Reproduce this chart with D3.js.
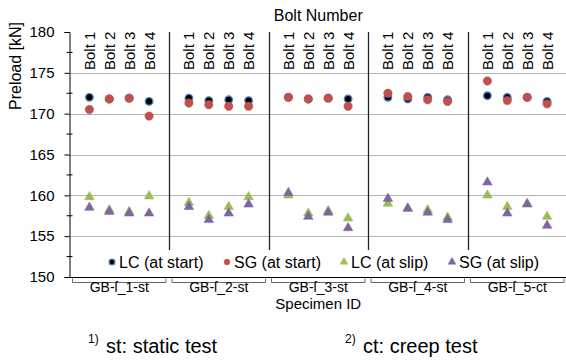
<!DOCTYPE html>
<html>
<head>
<meta charset="utf-8">
<script src="https://cdn.jsdelivr.net/npm/d3@7"></script>
<style>
  html, body { margin: 0; padding: 0; background: #fff; }
  svg { display: block; font-family: "Liberation Sans", Arial, sans-serif; }
</style>
</head>
<body>
<svg id="chart" width="566" height="360"></svg>
<script>
// Specimens and bolts
const specimens = ["GB-ſ_1-st", "GB-ſ_2-st", "GB-ſ_3-st", "GB-ſ_4-st", "GB-ſ_5-ct"];
const bolts = ["Bolt 1", "Bolt 2", "Bolt 3", "Bolt 4"];

// Preload per specimen (rows) and bolt (columns), kN
const lcStart = [
  [172.0, 171.8, 171.9, 171.5],
  [171.9, 171.6, 171.7, 171.6],
  [172.0, 171.8, 171.9, 171.8],
  [172.0, 171.8, 172.0, 171.7],
  [172.2, 172.0, 172.0, 171.5]
];
const sgStart = [
  [170.5, 171.8, 171.9, 169.7],
  [171.3, 171.1, 170.9, 170.9],
  [172.0, 171.8, 171.9, 170.9],
  [172.5, 172.1, 171.7, 171.5],
  [174.0, 171.6, 172.0, 171.2]
];
const lcSlip = [
  [159.8, 158.2, 158.0, 159.9],
  [159.1, 157.5, 158.6, 159.8],
  [160.0, 157.8, 158.1, 157.2],
  [159.0, 158.4, 158.2, 157.3],
  [160.0, 158.6, 159.0, 157.4]
];
const sgSlip = [
  [158.5, 158.0, 157.8, 157.8],
  [158.6, 157.0, 157.8, 158.9],
  [160.3, 157.4, 157.9, 156.0],
  [159.6, 158.4, 157.9, 157.0],
  [161.6, 157.8, 158.9, 156.3]
];

const yTicks = [150, 155, 160, 165, 170, 175, 180];
const yMinor = [152.5, 157.5, 162.5, 167.5, 172.5, 177.5];

const seriesNames = ["LC (at start)", "SG (at start)", "LC (at slip)", "SG (at slip)"];

const svg = d3.select("#chart");
const plotLeft = 69.5, plotRight = 567, plotTop = 32, plotBottom = 277;

const x = d3.scaleBand().domain(specimens).range([plotLeft, plotRight]);
const xb = d3.scalePoint().domain(bolts).range([0, x.bandwidth()]).padding(1);
const y = d3.scaleLinear().domain([150, 180]).range([plotBottom, plotTop]);

// Horizontal gridlines
svg.append("g").selectAll("line").data(yTicks.filter(v => v > 150 && v < 180)).join("line")
  .attr("x1", plotLeft).attr("x2", plotRight)
  .attr("y1", d => Math.round(y(d)) + 0.5).attr("y2", d => Math.round(y(d)) + 0.5)
  .attr("stroke", "#b3b3b3").attr("stroke-width", 1);

// Group separators
svg.append("g").selectAll("line").data(specimens.slice(1)).join("line")
  .attr("x1", d => Math.round(x(d)) + 0.5).attr("x2", d => Math.round(x(d)) + 0.5)
  .attr("y1", plotTop).attr("y2", 250)
  .attr("stroke", "#222").attr("stroke-width", 1.3);

// Bolt labels at top of each group
specimens.forEach(s => {
  svg.append("g").selectAll("text").data(bolts).join("text")
    .attr("transform", d => `translate(${x(s) + xb(d)},70) rotate(-90)`)
    .attr("dy", "0.36em")
    .attr("font-size", 15)
    .attr("fill", "#000")
    .text(d => d);
});

// Y axis
const yAxis = svg.append("g").attr("transform", `translate(${plotLeft},0)`)
  .call(d3.axisLeft(y).tickValues(yTicks).tickSize(5).tickPadding(10));
yAxis.select(".domain").attr("stroke", "#000");
yAxis.selectAll(".tick line").attr("stroke", "#000");
yAxis.selectAll("text").attr("font-size", 15).attr("fill", "#000")
  .attr("font-family", "Liberation Sans, Arial, sans-serif");
svg.append("g").selectAll("line").data(yMinor).join("line")
  .attr("x1", plotLeft - 3).attr("x2", plotLeft + 3)
  .attr("y1", d => y(d)).attr("y2", d => y(d))
  .attr("stroke", "#000");

// X axis line and group brackets
svg.append("line").attr("x1", plotLeft).attr("x2", plotRight)
  .attr("y1", plotBottom + 0.5).attr("y2", plotBottom + 0.5).attr("stroke", "#000");
svg.append("g").selectAll("path").data(specimens).join("path")
  .attr("d", d => {
    const a = x(d) + 3, b = x(d) + x.bandwidth() - 3;
    return `M${a},278.5V282.5H${b}V278.5`;
  })
  .attr("fill", "none").attr("stroke", "#666").attr("stroke-width", 1);
svg.append("g").selectAll("text").data(specimens).join("text")
  .attr("x", d => x(d) + x.bandwidth() / 2).attr("y", 291.5)
  .attr("text-anchor", "middle").attr("font-size", 14).text(d => d);

// Axis titles
svg.append("text").attr("x", (plotLeft + plotRight) / 2).attr("y", 309)
  .attr("text-anchor", "middle").attr("font-size", 15).text("Specimen ID");
svg.append("text").attr("x", (plotLeft + plotRight) / 2).attr("y", 21)
  .attr("text-anchor", "middle").attr("font-size", 16).text("Bolt Number");
svg.append("text").attr("transform", "translate(15,66) rotate(-90)")
  .attr("dy", "0.36em")
  .attr("text-anchor", "middle").attr("font-size", 16).text("Preload [kN]");

// Markers
const styles = [
  { data: lcStart, shape: d3.symbolCircle, size: 44, fill: "#000", stroke: "#4f81bd", sw: 1.4 },
  { data: sgStart, shape: d3.symbolCircle, size: 56, fill: "#c0504d", stroke: "#c0504d", sw: 0.5 },
  { data: lcSlip, shape: d3.symbolTriangle, size: 40, fill: "#9bbb59", stroke: "#9bbb59", sw: 0.5 },
  { data: sgSlip, shape: d3.symbolTriangle, size: 40, fill: "#8064a2", stroke: "#8064a2", sw: 0.5 }
];
styles.forEach(st => {
  const pts = [];
  specimens.forEach((s, i) => bolts.forEach((b, j) => pts.push({ s, b, v: st.data[i][j] })));
  svg.append("g").selectAll("path").data(pts).join("path")
    .attr("transform", d => `translate(${x(d.s) + xb(d.b)},${y(d.v)})`)
    .attr("d", d3.symbol().type(st.shape).size(st.size))
    .attr("fill", st.fill).attr("stroke", st.stroke).attr("stroke-width", st.sw);
});

// Legend
const legendX = [112, 227, 344, 452];
const lg = svg.append("g");
styles.forEach((st, i) => {
  lg.append("path")
    .attr("transform", `translate(${legendX[i]},262)`)
    .attr("d", d3.symbol().type(st.shape).size(26)())
    .attr("fill", st.fill).attr("stroke", st.stroke).attr("stroke-width", st.sw);
  lg.append("text").attr("x", legendX[i] + 7).attr("y", 262).attr("dy", "0.36em")
    .attr("font-size", 16).text(seriesNames[i]);
});

// Footnotes
const fn = svg.append("g");
fn.append("text").attr("x", 88).attr("y", 343).attr("font-size", 12).text("1)");
fn.append("text").attr("x", 106).attr("y", 353).attr("font-size", 20).text("st: static test");
fn.append("text").attr("x", 345).attr("y", 343).attr("font-size", 12).text("2)");
fn.append("text").attr("x", 363).attr("y", 353).attr("font-size", 20).text("ct: creep test");
</script>
</body>
</html>
